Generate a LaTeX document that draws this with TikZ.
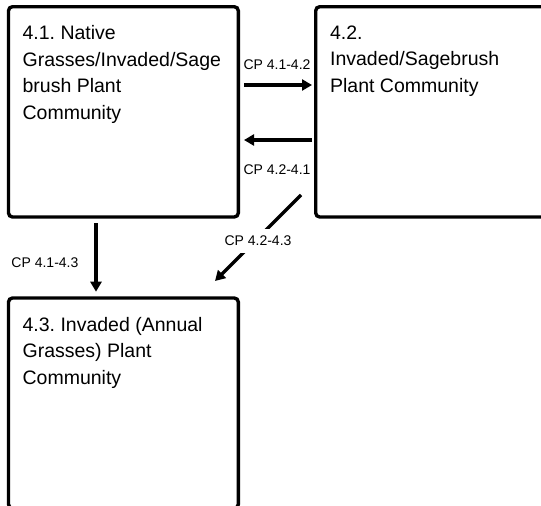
\documentclass[tikz,border=0pt]{standalone}
\usepackage{fontspec}
\setmainfont{Liberation Sans}
\usetikzlibrary{positioning,arrows.meta}
\frenchspacing

\tikzset{
  statebox/.style={draw,line width=3.4pt,rounded corners=4pt,inner sep=0pt,outer sep=0pt,
    minimum width=229.8pt,minimum height=210.3pt},
  statetext/.style={anchor=north west,inner sep=0pt,align=left,
    font=\fontsize{19.5}{26.5}\selectfont},
  cplabel/.style={inner sep=2pt,font=\fontsize{14}{16}\selectfont},
}

\begin{document}
\begin{tikzpicture}[x=1pt,y=1pt,>={Triangle[width=11pt,length=10pt]},line width=3.2pt]
  \useasboundingbox (0,0) rectangle (541,-506);
  \clip (0,0) rectangle (541,-506);
  \node[statebox] at (123.4,-111.85) (Native) {};
  \node[statebox,right=77.4pt of Native] (Sagebrush) {};
  \node[statebox,below=81pt of Native] (Annual) {};
  \node[statetext] at ([xshift=12.5pt,yshift=-17.4pt]Native.north west) (Native_text)
    {4.1. Native\\Grasses/Invaded/Sage\\brush Plant\\Community};
  \node[statetext] at ([xshift=12.8pt,yshift=-17.4pt]Sagebrush.north west) (Sagebrush_text)
    {4.2.\\Invaded/Sagebrush\\Plant Community};
  \node[statetext] at ([xshift=12.5pt,yshift=-17.4pt]Annual.north west) (Annual_text)
    {4.3. Invaded (Annual\\Grasses) Plant\\Community};
  %
  \draw[->,shorten <=5.7pt,shorten >=3.7pt] ([yshift=26.85pt]Native.east) -- node[cplabel,above=12pt,midway]{CP 4.1-4.2} ([yshift=26.85pt]Sagebrush.west);
  \draw[->,shorten <=3.7pt,shorten >=5.7pt] ([yshift=-28.15pt]Sagebrush.west) -- node[cplabel,below=20.7pt,midway]{CP 4.2-4.1} ([yshift=-28.15pt]Native.east);
  \draw[->,shorten <=6.3pt,shorten >=6.3pt] ([xshift=-27.4pt]Native.south) -- node[cplabel,left=14pt,pos=0.57]{CP 4.1-4.3} ([xshift=-27.4pt]Annual.north);
  \draw[->] ([xshift=-14.7pt,yshift=22pt]Sagebrush.south west) -- node[cplabel,midway,fill=white,inner sep=7pt,yshift=-3pt]{CP 4.2-4.3} ([xshift=-23.3pt,yshift=17pt]Annual.north east);
\end{tikzpicture}
\end{document}
